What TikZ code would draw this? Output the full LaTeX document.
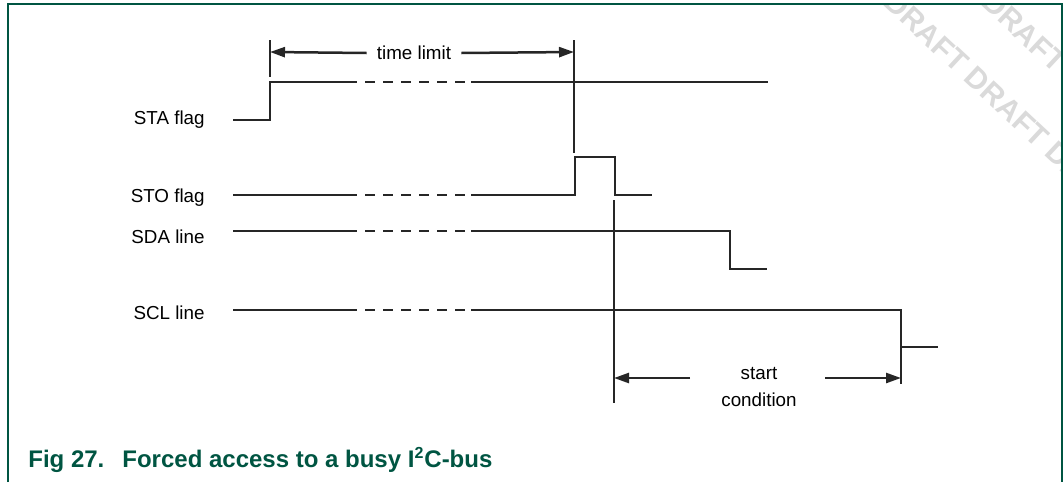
\documentclass[tikz,border=0pt]{standalone}
\usepackage{fontspec}
\setmainfont{Liberation Sans}
\usepackage{xcolor}
\usepackage{tikz}
\usetikzlibrary{calc,arrows.meta}

\definecolor{nxpgreen}{RGB}{0,85,66}
\definecolor{wmgray}{RGB}{218,218,218}

\begin{document}
\begin{tikzpicture}[x=0.5pt, y=-0.5pt,
  wave/.style={line width=1.25pt, black!85},
  gapline/.style={line width=1.25pt, black!85, dash pattern=on 5pt off 4pt},
  dimline/.style={line width=1.25pt, black!85, -{Triangle[length=7.5pt,width=5pt]}},
  sig/.style={font=\fontsize{9.4}{11}\selectfont, anchor=east, inner sep=0pt},
  dimtext/.style={font=\fontsize{9.4}{13.5}\selectfont, align=center, inner sep=0pt},
  wmark/.style={rotate=-43, text=wmgray, font=\fontsize{15}{15}\selectfont\bfseries, anchor=west, inner sep=0pt},
  captext/.style={anchor=base west, inner sep=0pt, text=nxpgreen, font=\fontsize{12}{12}\selectfont\bfseries}]

\useasboundingbox (0,0) rectangle (1063,482);

% watermark
\begin{scope}
\clip (8,4) rectangle (1062,482);
\node[wmark] (wm1) at (889,-3) {DRAFT DRAFT DRAFT};
\node[wmark] (wm2) at (987,-3) {DRAFT DRAFT};
\end{scope}

% frame
\path[draw, nxpgreen, line width=1pt] (8,482) -- (8,4) -- (1062,4) -- (1062,482);

% labels
\node[sig] (sta) at (205,120) {STA flag};
\node[sig] (sto) at (205,198) {STO flag};
\node[sig] (sda) at (205,237) {SDA line};
\node[sig] (scl) at (205,313) {SCL line};

% STA flag
\path[draw, wave] (233,120) -- (270,120) -- (270,82) -- (357,82);
\path[draw, gapline] (365,82) -- (465,82);
\path[draw, wave] (471,82) -- (768,82);

% STO flag
\path[draw, wave] (233,195) -- (357,195);
\path[draw, gapline] (365,195) -- (465,195);
\path[draw, wave] (471,195) -- (575,195) -- (575,157) -- (615,157) -- (615,195) -- (652,195);

% SDA line
\path[draw, wave] (233,231) -- (357,231);
\path[draw, gapline] (365,231) -- (465,231);
\path[draw, wave] (471,231) -- (730,231) -- (730,269) -- (767,269);

% SCL line
\path[draw, wave] (233,310) -- (357,310);
\path[draw, gapline] (365,310) -- (465,310);
\path[draw, wave] (471,310) -- (901,310) -- (901,347) -- (938,347);

% time limit
\coordinate (tl1) at (270,52);
\coordinate (tl2) at (574,52);
\path[draw, wave] (270,40) -- (270,77);
\path[draw, wave] (574,40) -- (574,153);
\node[dimtext, inner xsep=5pt] (tl) at (414,53) {time limit};
\path[draw, dimline] (tl.west) -- (tl1);
\path[draw, dimline] (tl.east) -- (tl2);

% start condition
\coordinate (sc1) at (614,378);
\coordinate (sc2) at (901,378);
\coordinate (sca) at (690,378);
\coordinate (scb) at (825,378);
\path[draw, wave] (614,200) -- (614,403);
\path[draw, wave] (901,347) -- (901,384);
\node[dimtext] (sc) at (759,387) {start\\condition};
\path[draw, dimline] (sca) -- (sc1);
\path[draw, dimline] (scb) -- (sc2);

% caption
\node[captext] (fig) at (28,467) {Fig 27.};
\node[captext] (cap) at (122,467) {Forced access to a busy I\textsuperscript{2}C-bus};

\end{tikzpicture}
\end{document}
